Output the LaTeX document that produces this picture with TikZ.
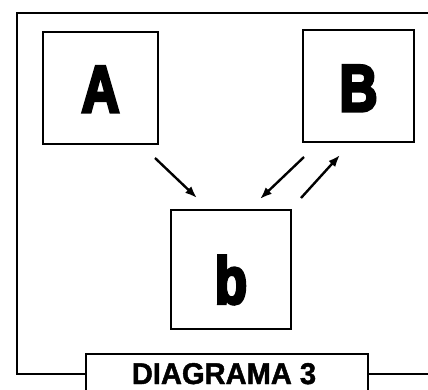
\documentclass[tikz,border=0pt]{standalone}
\usepackage{fontspec}
\setmainfont{Liberation Sans}
\newfontfamily\heavy[FakeBold=5]{Liberation Sans Bold}
\newfontfamily\semiheavy[FakeBold=1.5]{Liberation Sans Bold}
\usetikzlibrary{arrows.meta}
\begin{document}
\begin{tikzpicture}[x=1pt,y=-1pt,
  big/.style={font=\heavy\fontsize{66}{66}\selectfont,xscale=0.8},
  arr/.style={-{Latex[length=12pt,width=9pt]},line width=2.4pt}]
\useasboundingbox (0,0) rectangle (428,390);
\begin{scope}
\clip (0,0) rectangle (428,390);
% outer frame
\coordinate (fr) at (428,13);
\coordinate (ftl) at (17,13);
\coordinate (fbl) at (17,374);
\coordinate (fbr) at (428,374);
% label box
\node[draw,line width=2pt,minimum width=282pt,minimum height=44pt,anchor=north west,inner sep=0pt] (lab) at (85,353) {};
\draw[line width=2.5pt] (fr) -- (ftl) -- (fbl) -- (lab.west |- fbl);
\draw[line width=2pt] (lab.east |- fbr) -- (fbr);
\end{scope}
\node[anchor=base,font=\semiheavy\fontsize{30}{30}\selectfont,xscale=0.97,inner sep=0pt] (labt) at (224,384) {DIAGRAMA 3};
% boxes
\node[draw,line width=2pt,minimum width=115pt,minimum height=112pt,inner sep=0pt] (A) at (100.5,88) {};
\node[draw,line width=2pt,minimum width=111pt,minimum height=112pt,inner sep=0pt] (B) at (358.5,86) {};
\node[draw,line width=2pt,minimum width=120pt,minimum height=119pt,inner sep=0pt] (b) at (231,269.5) {};
\node[big,anchor=base] (At) at (A.center) [yshift=-24pt] {A};
\node[big,anchor=base] (Bt) at (B.center) [yshift=-25pt] {B};
\node[big,anchor=base] (bt) at (b.center) [yshift=-34pt] {b};
% arrows
\coordinate (a1s) at (155,158); \coordinate (a1e) at (197,198);
\coordinate (a2s) at (304,157); \coordinate (a2e) at (260,199);
\coordinate (a3s) at (301,198); \coordinate (a3e) at (340,155);
\draw[arr] (a1s) -- (a1e);
\draw[arr] (a2s) -- (a2e);
\draw[arr] (a3s) -- (a3e);
\end{tikzpicture}
\end{document}
